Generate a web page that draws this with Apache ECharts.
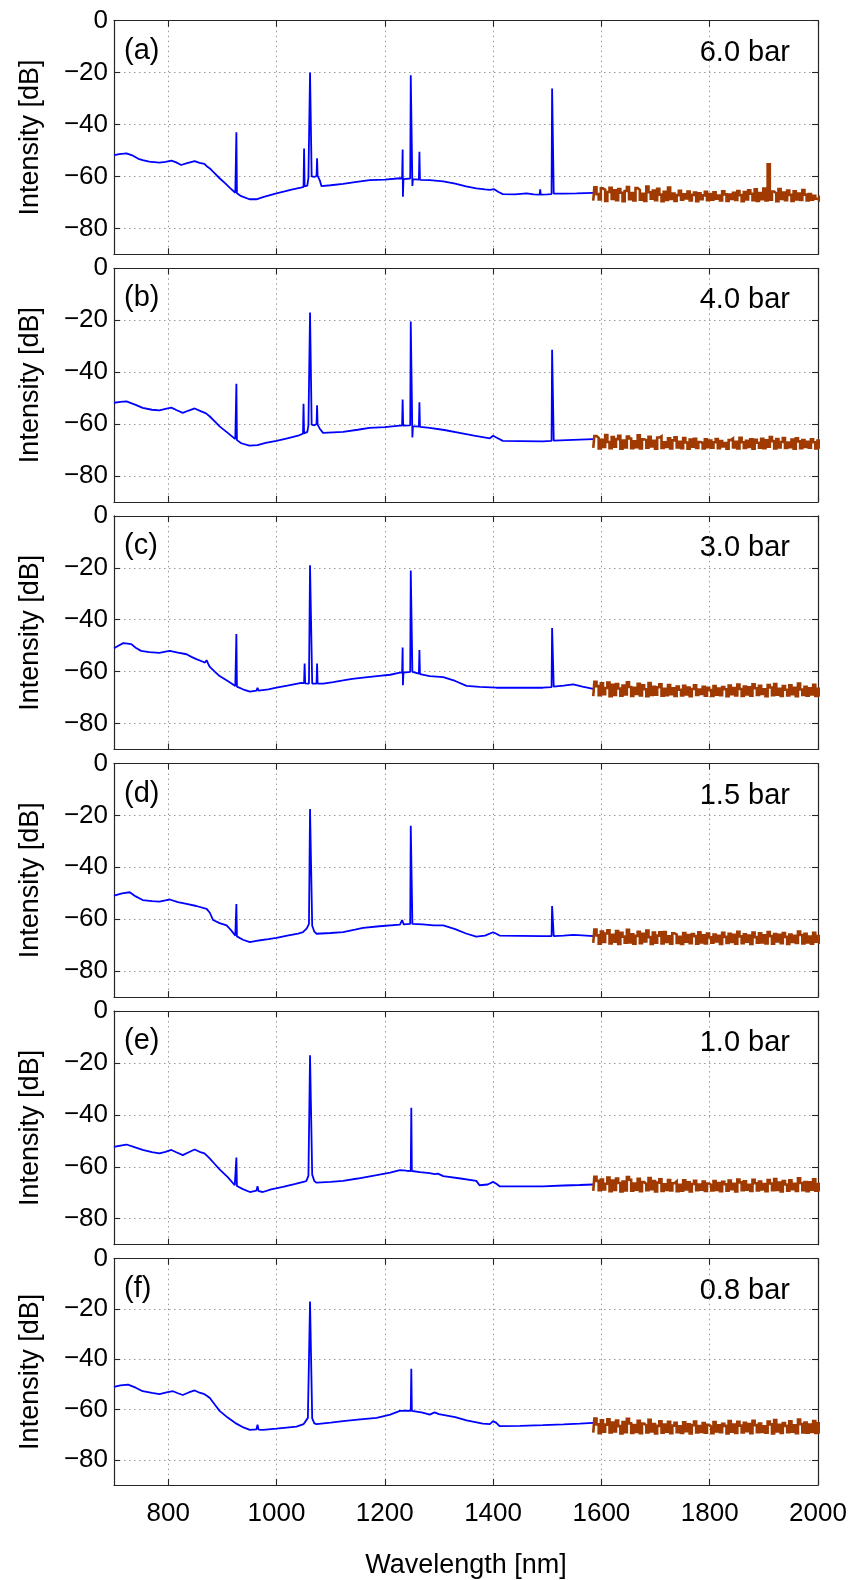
<!DOCTYPE html>
<html><head><meta charset="utf-8">
<script src="https://cdn.jsdelivr.net/npm/echarts@6/dist/echarts.min.js"></script>
<style>html,body{margin:0;padding:0;background:#fff}#c{width:852px;height:1580px}</style>
</head><body><div id="c"></div><script>
const panelLabels = ['(a)','(b)','(c)','(d)','(e)','(f)'];
const pressures = ['6.0 bar','4.0 bar','3.0 bar','1.5 bar','1.0 bar','0.8 bar'];
const xTicks = [800,1000,1200,1400,1600,1800,2000];
const yTicks = [-80,-60,-40,-20,0];
const noiseStart = 1585, noiseStep = 4;

const spectrumA = [[700,-51.8],[710,-51.4],[723,-51.1],[735,-52.0],[745,-53.2],[753,-53.7],[765,-54.3],[784,-54.7],[795,-54.4],[806,-53.9],[815,-54.6],[824,-55.6],[835,-54.9],[849,-54.1],[858,-54.8],[867,-55.2],[872,-56.2],[877,-56.9],[886,-58.8],[895,-60.7],[905,-62.6],[915,-64.6],[924,-66.3],[925,-66.5],[926,-43.0],[927,-66.5],[935,-67.6],[950,-68.8],[963,-68.8],[975,-68.0],[990,-67.1],[1000,-66.5],[1015,-65.8],[1030,-65.0],[1045,-64.3],[1050,-64.0],[1051,-49.2],[1052,-63.8],[1057,-63.5],[1059,-60.5],[1061,-59.8],[1062,-20],[1064,-19.6],[1065,-60],[1070,-60.2],[1074,-59.8],[1075,-53],[1076,-59.8],[1080,-61.5],[1083,-63.7],[1100,-63.4],[1123,-62.9],[1145,-62.2],[1172,-61.4],[1200,-61.2],[1228,-60.7],[1232,-60.8],[1233,-49.6],[1233.5,-67.8],[1234.5,-61.0],[1247,-60.8],[1248,-21],[1250,-21],[1251,-63.7],[1252,-61],[1263,-61.2],[1264,-50.5],[1265,-61.3],[1283,-61.4],[1308,-61.9],[1330,-62.8],[1350,-63.8],[1369,-64.6],[1385,-65.0],[1394,-65.2],[1402,-64.9],[1410,-66.0],[1418,-66.8],[1440,-66.9],[1462,-66.5],[1475,-66.9],[1486,-67.0],[1487,-65.0],[1488,-67.0],[1500,-66.9],[1508,-66.8],[1509,-26.1],[1511,-26.1],[1512,-66.6],[1530,-66.6],[1554,-66.5],[1570,-66.4],[1585,-66.3]];
const spectrumB = [[700,-51.8],[712,-51.5],[723,-51.3],[740,-52.6],[753,-53.8],[770,-54.5],[784,-54.7],[795,-54.2],[806,-53.7],[815,-54.6],[827,-55.7],[838,-54.8],[849,-54.0],[860,-55.0],[870,-55.9],[877,-57.1],[886,-59.0],[895,-60.9],[910,-63.4],[924,-65.8],[925,-66],[926,-44.5],[927,-66.2],[935,-67.4],[950,-68.3],[965,-68.1],[980,-67.3],[1000,-66.5],[1020,-65.5],[1040,-64.5],[1049,-63.7],[1050,-52.2],[1051,-63.6],[1057,-63.0],[1059,-60.5],[1061,-60.2],[1062,-17],[1064,-17],[1065,-60.2],[1070,-60.5],[1074,-60],[1075,-52.8],[1076,-60.2],[1080,-61.8],[1086,-63.4],[1123,-63.0],[1150,-62.2],[1172,-61.5],[1200,-61.2],[1228,-60.6],[1232,-60.6],[1233,-50.6],[1234,-60.6],[1247,-60.5],[1248,-20.5],[1250,-20.5],[1251,-65.2],[1252,-60.8],[1263,-61],[1264,-51.6],[1265,-61.1],[1283,-61.5],[1310,-62.3],[1338,-63.4],[1365,-64.5],[1394,-65.5],[1400,-64.5],[1406,-65.2],[1418,-66.5],[1450,-66.6],[1492,-66.7],[1508,-66.5],[1509,-31.4],[1511,-31.4],[1512,-66.4],[1548,-66.1],[1585,-65.8]];
const spectrumC = [[700,-51.0],[708,-50.0],[717,-49.0],[725,-49.2],[732,-49.4],[740,-50.8],[750,-52.0],[765,-52.5],[784,-52.8],[795,-52.3],[803,-52.0],[818,-52.7],[834,-53.3],[843,-54.3],[852,-55.2],[862,-56.0],[868,-56.5],[871,-55.6],[874,-57.0],[877,-58.2],[886,-60.0],[895,-61.7],[910,-63.6],[924,-65.5],[925,-65.6],[926,-45.5],[927,-65.8],[938,-66.8],[951,-67.7],[963,-67.3],[965,-66.2],[967,-67.3],[985,-66.8],[1000,-66.2],[1020,-65.4],[1046,-64.3],[1051,-64.4],[1052,-56.9],[1053,-64.5],[1060,-64.6],[1062,-19],[1064,-19],[1066,-64.6],[1074,-64.6],[1075,-56.9],[1076,-64.6],[1086,-64.6],[1105,-64.0],[1123,-63.4],[1140,-62.8],[1160,-62.3],[1190,-61.6],[1210,-61.2],[1228,-60.4],[1232,-60.4],[1233,-50.7],[1233.5,-65.2],[1234.5,-60.4],[1247,-60.1],[1248,-21],[1250,-21],[1251,-60.1],[1263,-60.8],[1264,-51.7],[1265,-61],[1283,-61.7],[1308,-62.1],[1330,-63.6],[1351,-65.5],[1375,-65.9],[1406,-66.2],[1450,-66.2],[1492,-66.2],[1508,-66.0],[1509,-43.2],[1511,-43.2],[1512,-65.8],[1530,-65.4],[1548,-64.9],[1565,-65.8],[1585,-66.6]];
const spectrumD = [[700,-50.9],[715,-50.0],[729,-49.6],[740,-51.2],[753,-52.6],[770,-53.0],[784,-53.2],[795,-52.7],[803,-52.4],[818,-53.4],[834,-54.1],[852,-54.9],[871,-56.0],[877,-57.5],[883,-60.3],[895,-61.5],[908,-62.4],[916,-64.2],[924,-66.3],[925,-66.4],[926,-54.1],[927,-66.6],[938,-67.9],[951,-68.8],[963,-68.3],[965,-67.6],[967,-68.2],[985,-67.7],[1000,-67.2],[1020,-66.3],[1040,-65.5],[1049,-65.0],[1056,-63.5],[1060,-61.8],[1062,-17.5],[1064,-17.5],[1066,-62.5],[1070,-64.8],[1074,-65.6],[1100,-65.3],[1123,-65.0],[1145,-64.0],[1160,-63.3],[1190,-62.7],[1228,-62.1],[1232,-60.3],[1235,-62.0],[1247,-61.8],[1248,-24],[1250,-24],[1251,-61.8],[1270,-62.0],[1290,-62.4],[1308,-62.4],[1330,-63.8],[1350,-65.5],[1369,-66.7],[1385,-66.3],[1400,-65.0],[1406,-65.6],[1412,-66.3],[1450,-66.4],[1492,-66.5],[1508,-66.5],[1509,-54.9],[1511,-54.9],[1512,-66.5],[1530,-66.3],[1548,-66.0],[1565,-66.2],[1585,-66.5]];
const spectrumE = [[700,-52.3],[712,-51.8],[723,-51.4],[735,-52.2],[753,-53.5],[770,-54.3],[784,-54.8],[795,-54.2],[806,-53.5],[815,-54.4],[827,-55.5],[838,-54.4],[849,-53.3],[858,-54.2],[867,-54.8],[872,-55.8],[877,-56.8],[886,-58.9],[895,-61.0],[910,-64.0],[923,-67.1],[925,-67.2],[926,-56.4],[927,-67.4],[938,-68.6],[951,-69.7],[963,-69.2],[965,-67.5],[967,-69.4],[975,-69.7],[990,-68.7],[1012,-67.7],[1035,-66.6],[1055,-65.5],[1059,-63.5],[1062,-17],[1064,-17],[1066,-63],[1070,-65.5],[1074,-66.1],[1100,-65.8],[1123,-65.4],[1150,-64.5],[1185,-63.2],[1210,-62.2],[1228,-61.3],[1240,-61.5],[1248,-61.6],[1249,-37.2],[1250,-61.6],[1265,-62.0],[1283,-62.4],[1292,-62.8],[1298,-62.6],[1308,-63.6],[1340,-64.5],[1369,-65.4],[1375,-67.1],[1390,-66.8],[1400,-65.8],[1406,-66.5],[1412,-67.5],[1450,-67.5],[1492,-67.5],[1530,-67.2],[1560,-67.0],[1585,-66.8]];
const spectrumF = [[700,-51.0],[712,-50.4],[726,-50.1],[740,-51.3],[753,-52.7],[770,-53.4],[784,-53.9],[797,-53.2],[809,-52.7],[818,-53.5],[827,-54.2],[838,-53.2],[849,-52.4],[858,-53.3],[867,-53.9],[872,-54.6],[877,-55.4],[886,-58.0],[895,-60.5],[910,-63.2],[926,-65.6],[940,-67.2],[951,-68.1],[963,-67.9],[965,-66.0],[967,-68.0],[975,-68.1],[1000,-67.6],[1037,-66.8],[1050,-65.8],[1058,-63.3],[1062,-17],[1064,-17],[1066,-63.5],[1070,-65.5],[1074,-65.8],[1100,-65.2],[1123,-64.6],[1150,-64.0],[1185,-63.3],[1210,-62.0],[1228,-60.5],[1240,-60.4],[1248,-60.5],[1249,-43.8],[1250,-60.5],[1270,-61.2],[1283,-62.0],[1292,-61.1],[1300,-61.8],[1330,-63.0],[1351,-64.3],[1381,-65.6],[1394,-65.8],[1400,-64.6],[1406,-65.3],[1412,-66.6],[1450,-66.5],[1492,-66.2],[1530,-65.9],[1560,-65.6],[1585,-65.3]];

const noiseA = [-69.3,-64.2,-66.8,-68.9,-64.6,-65.1,-69.4,-66.0,-64.4,-68.7,
-65.3,-69.2,-64.9,-66.3,-69.5,-65.6,-64.1,-68.8,-66.4,-69.3,
-64.5,-65.2,-69.0,-66.7,-69.4,-63.9,-66.1,-68.6,-65.4,-69.2,
-64.8,-67.0,-69.5,-65.9,-69.1,-64.3,-68.7,-66.6,-69.4,-67.2,
-65.5,-69.0,-66.9,-68.5,-65.8,-69.3,-67.1,-66.2,-69.5,-66.5,
-68.8,-67.3,-65.9,-69.2,-66.8,-69.0,-66.1,-68.6,-67.4,-69.3,
-65.7,-66.9,-69.4,-67.0,-68.7,-66.3,-69.1,-65.6,-67.2,-69.5,
-66.0,-68.9,-65.3,-66.7,-69.2,-65.0,-69.4,-66.4,-68.8,-64.7,
-69.3,-55.3,-69.0,-65.8,-66.5,-69.5,-64.9,-68.7,-66.2,-69.2,
-65.4,-67.1,-69.4,-65.7,-68.9,-66.6,-69.1,-65.2,-67.0,-69.3,
-66.8,-69.0,-67.5,-68.6,-69.2,-67.8,-69.4,-68.3,-69.0,-68.7];
const noiseB = [-69.2,-64.6,-65.3,-69.4,-66.1,-68.8,-64.2,-66.9,-69.3,-65.0,
-68.7,-65.8,-64.5,-69.5,-66.4,-69.0,-64.8,-65.6,-69.3,-66.7,
-68.9,-64.3,-69.4,-65.9,-66.2,-69.1,-64.9,-68.6,-66.5,-69.5,
-65.2,-64.7,-69.2,-67.0,-68.8,-65.5,-69.4,-66.3,-65.1,-69.0,
-66.8,-69.3,-65.4,-67.1,-69.5,-66.0,-68.7,-65.7,-69.2,-66.9,
-67.2,-69.4,-65.9,-68.9,-66.4,-69.1,-67.0,-65.8,-69.3,-66.6,
-68.6,-67.3,-69.5,-66.2,-65.6,-69.0,-66.8,-69.4,-65.3,-67.0,
-69.2,-66.5,-68.8,-65.9,-69.5,-66.1,-67.2,-69.1,-65.7,-69.3,
-66.3,-68.7,-65.0,-66.6,-69.4,-65.8,-69.0,-66.9,-65.4,-69.2,
-67.1,-68.9,-66.0,-69.5,-65.5,-66.7,-69.3,-66.2,-68.8,-66.8,
-69.1,-65.9,-67.0,-69.4,-66.4,-69.0,-66.7,-68.7,-66.1,-69.3];
const noiseC = [-69.4,-63.9,-65.6,-69.1,-64.5,-68.7,-66.3,-64.2,-69.5,-65.1,
-69.0,-64.8,-66.5,-69.3,-65.4,-68.8,-64.1,-65.9,-69.4,-66.2,
-68.6,-64.7,-69.2,-65.3,-66.8,-69.5,-64.4,-69.0,-65.8,-68.9,
-66.0,-64.9,-69.3,-66.6,-69.1,-65.2,-68.7,-66.4,-69.4,-65.7,
-67.0,-69.2,-65.5,-68.8,-66.1,-69.5,-66.7,-65.3,-69.0,-66.9,
-68.6,-65.8,-69.3,-66.2,-67.1,-69.4,-65.6,-68.9,-66.5,-69.1,
-65.9,-66.8,-69.5,-65.4,-68.7,-66.3,-69.2,-65.0,-66.7,-69.4,
-65.7,-68.8,-66.0,-69.3,-64.9,-66.4,-69.0,-65.5,-68.6,-66.8,
-69.5,-65.2,-66.1,-69.1,-64.8,-68.9,-66.6,-69.4,-65.6,-67.0,
-69.2,-65.3,-68.7,-66.2,-69.5,-64.6,-66.9,-69.0,-65.8,-69.3,
-66.4,-68.8,-65.1,-69.4,-66.6,-69.1,-65.4,-68.9,-66.0,-69.2];
const noiseD = [-69.1,-64.0,-66.2,-69.4,-64.7,-68.8,-65.5,-64.3,-69.3,-66.0,
-68.7,-64.6,-69.5,-65.2,-66.7,-69.0,-64.1,-68.9,-65.8,-69.4,
-66.4,-64.8,-69.2,-65.6,-68.6,-64.4,-66.9,-69.5,-65.1,-69.0,
-66.3,-65.0,-69.3,-64.9,-68.8,-66.6,-69.4,-65.4,-65.9,-69.1,
-66.8,-69.5,-65.3,-68.7,-66.1,-69.2,-65.7,-66.5,-69.4,-65.0,
-68.9,-66.2,-69.3,-65.5,-67.0,-69.0,-65.9,-68.6,-66.4,-69.5,
-65.2,-66.8,-69.1,-65.6,-68.8,-66.0,-69.4,-64.8,-66.6,-69.2,
-65.8,-68.7,-66.3,-69.5,-65.1,-66.9,-69.0,-65.4,-68.9,-66.2,
-69.3,-64.9,-66.5,-69.4,-65.7,-68.6,-66.0,-69.2,-65.3,-66.8,
-69.5,-65.9,-68.8,-66.4,-69.1,-64.7,-66.1,-69.3,-65.6,-68.9,
-66.7,-69.4,-65.2,-68.7,-66.5,-69.0,-65.8,-69.3,-66.3,-69.1];
const noiseE = [-69.3,-63.8,-65.4,-69.0,-64.9,-68.7,-66.5,-64.1,-69.4,-65.3,
-68.9,-64.5,-66.2,-69.5,-65.7,-69.1,-63.9,-65.0,-69.2,-66.4,
-68.8,-64.6,-69.4,-65.9,-66.6,-69.0,-64.3,-68.6,-65.5,-69.5,
-66.1,-64.8,-69.3,-66.7,-68.9,-65.1,-69.1,-66.3,-65.6,-69.4,
-66.9,-69.2,-65.2,-68.7,-66.0,-69.5,-66.6,-65.4,-69.0,-66.8,
-68.8,-65.7,-69.3,-66.4,-67.0,-69.1,-65.5,-68.9,-66.2,-69.4,
-65.8,-66.7,-69.2,-65.3,-68.6,-66.5,-69.5,-64.9,-66.0,-69.0,
-65.6,-68.8,-66.9,-69.3,-65.0,-66.3,-69.1,-65.7,-68.7,-66.6,
-69.4,-65.1,-66.4,-69.0,-64.7,-68.9,-66.1,-69.5,-65.5,-66.8,
-69.2,-65.2,-68.6,-66.5,-69.3,-64.4,-66.2,-69.0,-65.9,-69.4,
-66.0,-68.8,-64.8,-69.2,-66.6,-69.0,-65.3,-68.9,-66.4,-69.3];
const noiseF = [-69.2,-63.6,-65.9,-69.4,-64.3,-68.8,-66.0,-63.9,-69.1,-65.2,
-68.7,-64.4,-66.6,-69.5,-65.0,-69.0,-63.7,-65.5,-69.3,-66.2,
-68.9,-64.5,-69.4,-65.6,-66.3,-69.1,-64.1,-68.7,-65.8,-69.5,
-66.5,-64.7,-69.2,-66.0,-68.8,-64.9,-69.4,-66.4,-65.3,-69.0,
-66.7,-69.3,-65.1,-68.6,-65.9,-69.5,-66.2,-64.8,-69.1,-66.6,
-68.9,-65.4,-69.2,-66.1,-66.8,-69.4,-65.0,-68.7,-66.3,-69.0,
-65.7,-66.5,-69.5,-64.6,-68.8,-66.0,-69.3,-64.9,-66.4,-69.1,
-65.3,-68.6,-65.8,-69.4,-64.5,-66.2,-69.0,-65.6,-68.9,-66.7,
-69.2,-64.8,-65.9,-69.5,-64.2,-68.7,-66.1,-69.3,-65.4,-66.5,
-69.0,-64.7,-68.8,-66.3,-69.4,-64.0,-65.8,-69.1,-65.2,-69.2,
-66.0,-68.9,-64.6,-69.3,-65.5,-69.0,-64.9,-68.7,-65.7,-69.4];

const spectra = [spectrumA, spectrumB, spectrumC, spectrumD, spectrumE, spectrumF];
const noises = [noiseA, noiseB, noiseC, noiseD, noiseE, noiseF];

const FONT = '"Liberation Sans", Arial, Helvetica, sans-serif';
const BLUE = '#0000ff', BROWN = '#a03a00', FRAME = '#262626';
const GL = 114, GW = 704, GT0 = 20.7, GSTEP = 247.6, GH = 233.6;
const minus = v => String(v).replace('-', '\u2212');

const grids = [], xAxes = [], yAxes = [], series = [], graphics = [];
for (let i = 0; i < 6; i++) {
  const top = GT0 + i * GSTEP;
  grids.push({left: GL, top: top, width: GW, height: GH, containLabel: false});
  const axLine = {show: true, onZero: false, lineStyle: {color: FRAME, width: 1.2}};
  const tick = (vals) => ({show: true, inside: true, length: 6, customValues: vals, lineStyle: {color: FRAME, width: 1.1}});
  const split = {show: true, lineStyle: {color: '#9a9a9a', width: 1, type: [1.5, 3.5]}};
  xAxes.push({
    gridIndex: i, type: 'value', min: 700, max: 2000, position: 'bottom',
    axisLine: axLine, axisTick: tick(xTicks), splitLine: split,
    axisLabel: {show: i === 5, customValues: xTicks, fontSize: 26, color: '#000', fontFamily: FONT, margin: 16, formatter: v => String(v)},
    name: i === 5 ? 'Wavelength [nm]' : '', nameLocation: 'middle', nameGap: 67,
    nameTextStyle: {fontSize: 27, color: '#000', fontFamily: FONT}
  });
  xAxes.push({
    gridIndex: i, type: 'value', min: 700, max: 2000, position: 'top',
    axisLine: axLine, axisTick: tick(xTicks), splitLine: {show: false}, axisLabel: {show: false}
  });
  yAxes.push({
    gridIndex: i, type: 'value', min: -90, max: 0, position: 'left',
    axisLine: axLine, axisTick: tick(yTicks), splitLine: split,
    axisLabel: {customValues: yTicks, fontSize: 26, color: '#000', fontFamily: FONT, margin: 6, formatter: minus},
    name: 'Intensity [dB]', nameLocation: 'middle', nameGap: 70,
    nameTextStyle: {fontSize: 27, color: '#000', fontFamily: FONT}
  });
  yAxes.push({
    gridIndex: i, type: 'value', min: -90, max: 0, position: 'right',
    axisLine: axLine, axisTick: tick(yTicks), splitLine: {show: false}, axisLabel: {show: false}
  });
  series.push({
    type: 'line', xAxisIndex: 2 * i, yAxisIndex: 2 * i, data: spectra[i],
    showSymbol: false, lineStyle: {color: BLUE, width: 1.8}, silent: true, z: 3
  });
  series.push({
    type: 'line', step: 'middle', xAxisIndex: 2 * i, yAxisIndex: 2 * i,
    data: noises[i].map((v, k) => [noiseStart + k * noiseStep, v]),
    showSymbol: false, lineStyle: {color: BROWN, width: 2.6, join: 'miter'}, silent: true, z: 3
  });
  graphics.push({type: 'text', x: GL + 10, y: top + 30,
    style: {text: panelLabels[i], font: '29px ' + FONT, fill: '#000', textAlign: 'left', textVerticalAlign: 'middle'}});
  graphics.push({type: 'text', x: 790, y: top + 32,
    style: {text: pressures[i], font: '29px ' + FONT, fill: '#000', textAlign: 'right', textVerticalAlign: 'middle'}});
}

const chart = echarts.init(document.getElementById('c'), null, {renderer: 'canvas'});
chart.setOption({
  animation: false, backgroundColor: '#fff',
  grid: grids, xAxis: xAxes, yAxis: yAxes, series: series, graphic: graphics
});
</script></body></html>
